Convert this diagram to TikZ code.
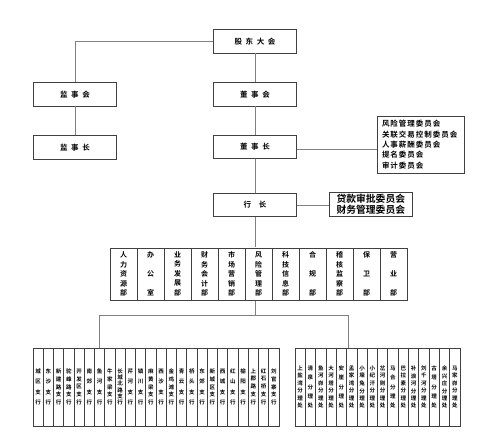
\documentclass[tikz,border=0pt]{standalone}
\usepackage{fontspec}
\setmainfont{Noto Sans CJK SC}[BoldFont={Noto Sans CJK SC Bold}]
\newfontfamily\labelfont{Noto Sans CJK SC Bold}[LetterSpace=47]
\newfontfamily\listfont{Noto Sans CJK SC Bold}[LetterSpace=13]
\usetikzlibrary{positioning, fit}

% characters set one under the other, spread over a fixed height
\newcommand\vstack[2]{\vbox to #1{\offinterlineskip
    \foreach \ch [count=\k] in #2{\ifnum\k>1 \vfill\fi\hbox{\ch}}}}

\begin{document}
\begin{tikzpicture}[
    x=1pt, y=-1pt,
    unit box/.style={draw=black!75, line width=0.7pt, minimum width=83pt, minimum height=23.5pt, inner sep=0pt, font=\labelfont\fontsize{7.5}{9}\selectfont},
    dept box/.style={draw=black!75, line width=0.7pt, minimum width=27pt, minimum height=52pt, inner sep=0pt, font=\bfseries\fontsize{7}{7}\selectfont},
    branch box/.style={draw=black!75, line width=0.6pt, minimum width=10.25pt, minimum height=78pt, inner sep=0pt, font=\bfseries\fontsize{5.5}{5.5}\selectfont},
    link/.style={draw=black!50, line width=0.8pt}
]
    \useasboundingbox (0,0) rectangle (500,440);

    % --- Top level ---
    \node[unit box] (Gudong) at (255, 41.3) {股东大会};
    \node[unit box] (Jianshihui) at (75, 94.3) {监事会};
    \node[unit box] (Jianshizhang) at (75, 147.2) {监事长};
    \node[unit box] (Dongshihui) at (255, 94.2) {董事会};
    \node[unit box] (Dongshizhang) at (255, 146.7) {董事长};
    \node[unit box] (Hangzhang) at (255, 205) {行\hspace{8pt}长};

    % --- Committees ---
    \node[draw=black!75, line width=0.7pt, minimum height=57.3pt, text width=78pt, inner xsep=4.3pt, inner ysep=0pt, align=left, font=\listfont\fontsize{7.5}{10.3}\selectfont] (Weiyuanhui) at (421, 144.7)
        {风险管理委员会\\关联交易控制委员会\\人事薪酬委员会\\提名委员会\\审计委员会};
    \node[draw=black!75, line width=0.7pt, minimum width=83.7pt, minimum height=24.4pt, inner sep=0pt, align=center, font=\bfseries\fontsize{9.8}{11}\selectfont] (Daikuan) at (370.8, 204.5)
        {贷款审批委员会\\财务管理委员会};

    % --- Departments ---
    \foreach \name [count=\i] in {{人,力,资,源,部}, {办,公,室}, {业,务,发,展,部}, {财,务,会,计,部}, {市,场,营,销,部}, {风,险,管,理,部}, {科,技,信,息,部}, {合,规,部}, {稽,核,监,察,部}, {保,卫,部}, {营,业,部}}
        \node[dept box] (Dept\i) at ({110+27*(\i-0.5)}, 274) {\vstack{44pt}{\name}};
    \node[fit=(Dept1)(Dept11), inner sep=0pt] (Depts) {};

    % --- Branches ---
    \foreach \name [count=\i] in {{城,区,支,行}, {东,沙,支,行}, {新,建,路,支,行}, {驼,峰,路,支,行}, {开,发,区,支,行}, {南,郊,支,行}, {鱼,河,支,行}, {牛,家,梁,支,行}, {长,城,北,路,支,行}, {芹,河,支,行}, {镇,川,支,行}, {麻,黄,梁,支,行}, {西,沙,支,行}, {金,鸡,滩,支,行}, {青,云,支,行}, {桥,头,支,行}, {东,郊,支,行}, {新,城,区,支,行}, {西,城,支,行}, {红,山,支,行}, {榆,阳,支,行}, {上,郡,路,支,行}, {红,石,桥,支,行}, {刘,官,寨,支,行}}
        \node[branch box] (ZH\i) at ({33+10.25*(\i-0.5)}, 387) {\vstack{36pt}{\name}};
    \node[fit=(ZH1)(ZH24), inner sep=0pt] (Zhihang) {};

    \foreach \name [count=\i] in {{上,盐,湾,分,理,处}, {清,泉,分,理,处}, {鱼,河,峁,分,理,处}, {大,河,塔,分,理,处}, {安,崖,分,理,处}, {孟,家,湾,分,理,处}, {小,壕,兔,分,理,处}, {小,纪,汗,分,理,处}, {岔,河,则,分,理,处}, {马,合,分,理,处}, {巴,拉,素,分,理,处}, {补,浪,河,分,理,处}, {刘,千,河,分,理,处}, {古,塔,分,理,处}, {余,兴,庄,分,理,处}, {马,家,峁,分,理,处}}
        \node[branch box, minimum width=10.31pt] (FL\i) at ({295+10.31*(\i-0.5)}, 387) {\vstack{42pt}{\name}};
    \node[fit=(FL1)(FL16), inner sep=0pt] (Fenli) {};

    % --- Connectors ---
    \draw[link] (Gudong.west) -| (Jianshihui.north);
    \draw[link] (Jianshihui) -- (Jianshizhang);
    \draw[link] (Gudong) -- (Dongshihui);
    \draw[link] (Dongshihui) -- (Dongshizhang);
    \draw[link] (Dongshizhang) -- (Hangzhang);
    \draw[link, double, double distance=4.5pt] (Dongshizhang.east) -- (Dongshizhang.east -| Weiyuanhui.west);
    \draw[link] (Hangzhang.east) -- (Hangzhang.east -| Daikuan.west);
    \draw[link] (Hangzhang.south) -- (Hangzhang.south |- Depts.north);

    \coordinate (BusL) at (99, 315);
    \coordinate (BusR) at (348, 315);
    \draw[link] (Hangzhang.south |- Depts.south) -- (Hangzhang.south |- BusL);
    \draw[link] (BusL |- Zhihang.north) -- (BusL) -- (BusR) -- (BusR |- Fenli.north);
\end{tikzpicture}
\end{document}
